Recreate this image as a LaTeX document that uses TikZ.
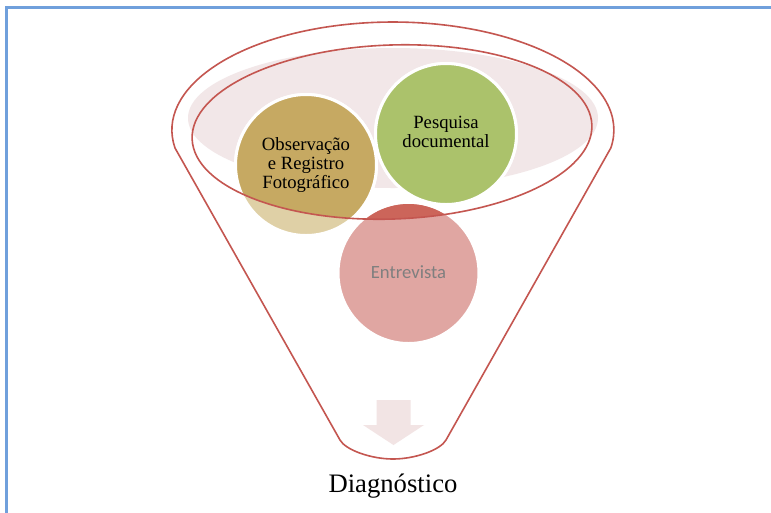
\documentclass[tikz,border=0pt]{standalone}
\usepackage{fontspec}
\setmainfont{Liberation Serif}
\newfontfamily\labelsans{Carlito}
\begin{document}
\begin{tikzpicture}[x=0.75pt,y=0.75pt,
  framecol/.style={draw={rgb,255:red,112;green,160;blue,220}, line width=2.25pt},
  funnelline/.style={draw={rgb,255:red,196;green,86;blue,80}, line width=1.2pt},
  bubble/.style={circle, draw=white, line width=2.25pt, minimum size=105.75pt, inner sep=0pt},
  bubbletext/.style={align=center, font=\fontsize{14}{14}\selectfont, inner sep=0pt},
]
\definecolor{goldc}{RGB}{198,169,98}
\definecolor{goldfade}{RGB}{223,208,166}
\definecolor{greenc}{RGB}{171,194,107}
\definecolor{greenfade}{RGB}{213,224,181}
\definecolor{redc}{RGB}{204,101,90}
\definecolor{redfade}{RGB}{224,166,162}
\definecolor{pinkfill}{RGB}{242,231,232}
\definecolor{arrowfill}{RGB}{242,228,228}
\definecolor{softgray}{RGB}{127,127,127}

% page area and outer frame
\clip (0,0) rectangle (771,-512);
\fill[white] (0,0) rectangle (771,-512);
\draw[framecol] (6.5,-7.5) rectangle (800,-540);

% soft fill inside the funnel mouth
\fill[pinkfill] (393,-118) ellipse [x radius=205, y radius=70];

% funnel outline
\coordinate (tl) at (175,-148);
\coordinate (bl) at (340,-440);
\coordinate (br) at (446,-440);
\coordinate (bot) at (393,-459);
\draw[funnelline] (bl) -- (tl)
  arc[start angle=189.59, end angle=-9.59, x radius=221, y radius=108]
  -- (br) .. controls (440.4,-450) and (415,-459) .. (bot)
  .. controls (371,-459) and (345.6,-450) .. (bl) -- cycle;

% down arrow inside the funnel neck
\fill[arrowfill] (376.5,-400) -- (410.5,-400) -- (410.5,-425) -- (424,-425)
  -- (393.5,-445) -- (363,-425) -- (376.5,-425) -- cycle;

% the three bubbles, faded where they leave the mouth
\node[bubble, fill=goldfade] (obs) at (306,-165) {};
\node[bubble, fill=greenfade] (pes) at (446,-134) {};
\node[bubble, fill=redfade] (ent) at (408.5,-273) {};

% full colour inside the mouth ellipse
\begin{scope}
  \clip[rotate around={2:(392,-132)}] (392,-132) ellipse [x radius=200, y radius=87];
  \filldraw[fill=goldc, draw=white, line width=2.25pt] (obs.center) circle [radius=52.875pt];
  \filldraw[fill=greenc, draw=white, line width=2.25pt] (pes.center) circle [radius=52.875pt];
  \fill[redc] (ent.center) circle [radius=51.75pt];
\end{scope}

% inner rim of the mouth
\draw[funnelline, rotate around={2:(392,-132)}] (392,-132) ellipse [x radius=200, y radius=87];

% labels
\node[bubbletext] (obs-label) at (obs.center) {Observação\\e Registro\\Fotográfico};
\node[bubbletext] (pes-label) at ([yshift=1.5pt]pes.center) {Pesquisa\\documental};
\node[font=\labelsans\fontsize{14}{14}\selectfont, text=softgray, inner sep=0pt] (ent-label) at ([yshift=0.75pt]ent.center) {Entrevista};
\node[font=\fontsize{20}{20}\selectfont, anchor=base, inner sep=0pt] (diag) at (393,-492) {Diagnóstico};
\end{tikzpicture}
\end{document}
